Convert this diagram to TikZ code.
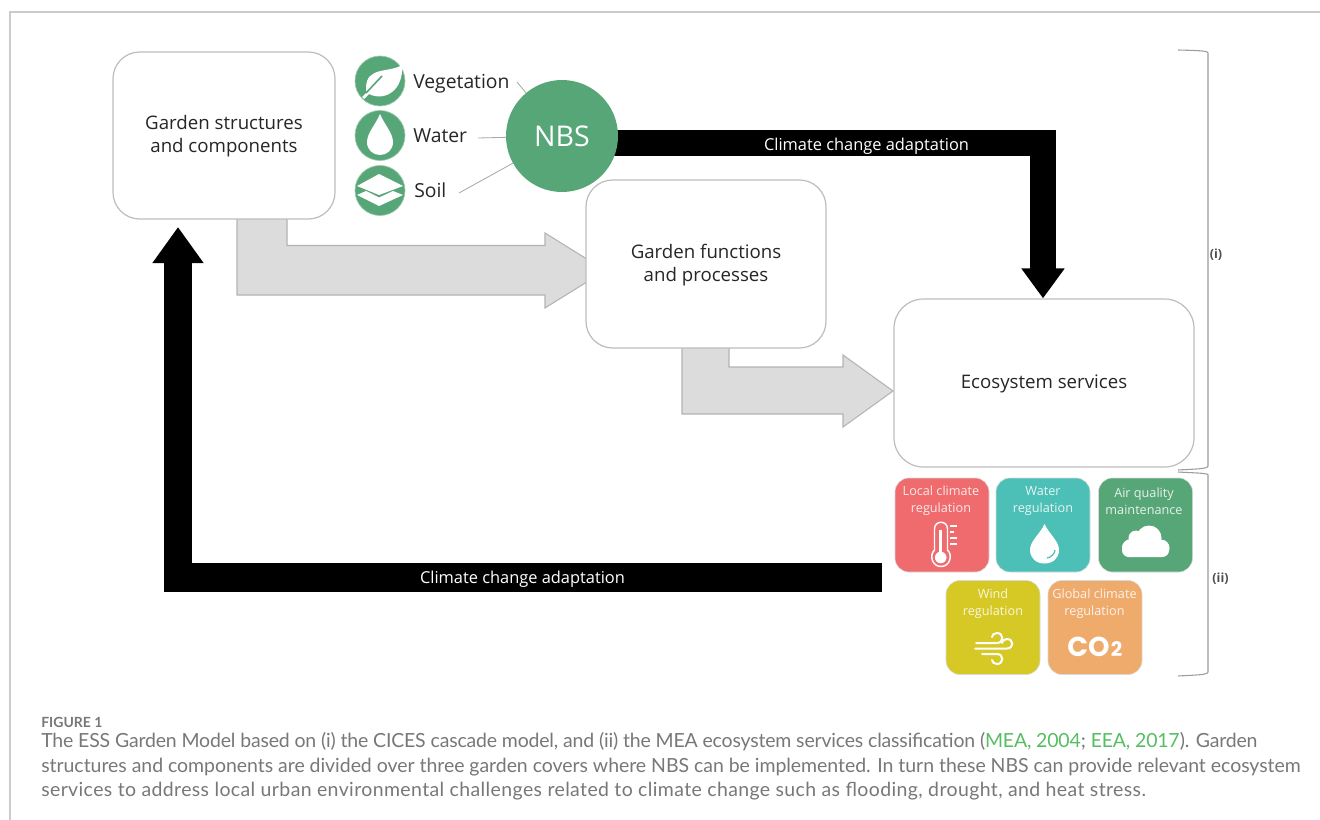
\documentclass[tikz,border=0pt]{standalone}
\usepackage{fontspec}
\setmainfont{Open Sans}
\newfontfamily\capfont{Lato}
\newfontfamily\cofont{Poppins}
\usetikzlibrary{arrows.meta}
\pgfdeclarelayer{back}
\pgfsetlayers{back,main}
\newcommand{\dnrule}{\rule{0pt}{12.1pt}}
\newcommand{\spaced}[1]{\addfontfeature{LetterSpace=#1}}
\definecolor{framec}{HTML}{CBCBCB}
\definecolor{boxline}{HTML}{BDBDBD}
\definecolor{greyfill}{HTML}{DCDCDC}
\definecolor{greyline}{HTML}{B4B4B4}
\definecolor{nbsgreen}{HTML}{57A677}
\definecolor{capgrey}{HTML}{787878}
\definecolor{linkgreen}{HTML}{56BE62}
\definecolor{tred}{HTML}{EF6B6E}
\definecolor{tteal}{HTML}{4CC0B6}
\definecolor{tgreen}{HTML}{57A677}
\definecolor{tyellow}{HTML}{D6C825}
\definecolor{torange}{HTML}{EFAB6C}
\definecolor{bracketc}{HTML}{9C9C9C}
\tikzset{
  rbox/.style={draw=boxline,line width=0.9pt,fill=white,align=center,text=black!85,
    font=\fontsize{14}{17.3}\selectfont,inner sep=0pt},
  iconc/.style={circle,fill=nbsgreen,draw=nbsgreen!60!white,line width=0.5pt,minimum size=37.5pt,inner sep=0pt},
  nbsc/.style={circle,fill=nbsgreen,minimum size=84pt,inner sep=0pt,text=white,font=\fontsize{21.4}{21.4}\selectfont},
  lab/.style={anchor=base west,inner sep=0pt,text=black!85,font=\fontsize{14.5}{17}\selectfont},
  thinl/.style={draw=black!35,line width=0.6pt},
  blockarrow/.style={draw=greyline,line width=0.8pt,fill=greyfill,line join=miter},
  tile/.style={rounded corners=10.5pt,minimum width=70.5pt,minimum height=70.5pt,inner sep=0pt,draw=white!85!black,line width=0.4pt},
  tiletxt/.style={align=center,inner sep=0pt,text=white,text opacity=0.85,font=\fontsize{9.5}{12.7}\selectfont},
  blackarrow/.style={line join=miter,draw=black},
  arrowtxt/.style={inner sep=0pt,text=white,font=\fontsize{12.3}{14}\selectfont},
  brk/.style={draw=bracketc,line width=0.8pt},
  brtxt/.style={inner sep=0pt,text=black!70,font=\fontsize{9.4}{11}\selectfont\bfseries},
  capline/.style={anchor=base west,inner sep=0pt,text=capgrey,font=\capfont\fontsize{14.6}{18}\selectfont}
}
\begin{document}
\begin{tikzpicture}[x=0.75pt,y=-0.75pt]
\useasboundingbox (0,0) rectangle (1320,820);
\begin{pgfonlayer}{back}
\fill[white] (0,0) rectangle (1320,820);
\end{pgfonlayer}
% frame
\draw[framec,line width=0.8pt] (1320,12) -- (10,12) -- (10,820);
% grey block arrows
\draw[blockarrow] (237,215) -- (287,215) -- (287,245.5) -- (545,245.5) -- (545,233) -- (590,261) -- (590,280) -- (545,308) -- (545,295) -- (237,295) -- cycle;
\draw[blockarrow] (682,344) -- (729,344) -- (729,367) -- (843,367) -- (843,355) -- (893,391) -- (843,427) -- (843,414) -- (682,414) -- cycle;
% boxes
\node[rbox,rounded corners=20pt,minimum width=166.5pt,minimum height=125.25pt] (box1) at (224,135.5) {\dnrule Garden structures\\and components};
\node[rbox,rounded corners=20pt,minimum width=180pt,minimum height=126pt] (box2) at (706,264) {\dnrule Garden functions\\and processes};
\node[rbox,rounded corners=22pt,minimum width=225pt,minimum height=126pt] (box3) at (1044,383) {\dnrule Ecosystem services};
% NBS
\node[nbsc] (nbs) at (562,136) {NBS};
% black connectors
\begin{pgfonlayer}{back}
\draw[blackarrow,line width=19.5pt,-{Triangle[length=22.5pt,width=31pt]}] ([yshift=-5.25pt]nbs.center) -| ([xshift=-0.75pt]box3.north);
\end{pgfonlayer}
\coordinate (ccaend) at (882,577.5);
\coordinate (uptarget) at (178,219);
\draw[blackarrow,line width=21.5pt,-{Triangle[length=27pt,width=36.5pt]},shorten >=6pt] (ccaend) -| (uptarget);
\node[arrowtxt] (cca1) at (866.5,146) {Climate change adaptation};
\node[arrowtxt] (cca2) at (522.5,579.5) {Climate change adaptation};
% icons
\node[iconc] (veg) at (380,81) {};
\node[iconc] (wat) at (380,135.5) {};
\node[iconc] (soi) at (380,190.5) {};
% leaf
\fill[white] (402,65) .. controls (390,73) and (366,66) .. (366,88) .. controls (366,90) and (366,91) .. (367,92) -- (362,97) -- (364,99) -- (369,94) .. controls (385,102) and (404,90) .. (402,65) -- cycle;
\draw[nbsgreen,line width=1.2pt] (382,76) -- (366,93);
% drop
\fill[white] (380,114) .. controls (376,124) and (367,133) .. (367,142) .. controls (367,150) and (373,155) .. (380,155) .. controls (387,155) and (393,150) .. (393,142) .. controls (393,133) and (384,124) .. (380,114) -- cycle;
% soil layers
\fill[white] (357,186) -- (379,174) -- (403,186) -- (379,195) -- cycle;
\fill[white] (357,195) -- (366,191) -- (379,197.5) -- (393,191) -- (403,195) -- (379,206) -- cycle;
% labels and thin connectors
\node[lab] (lveg) at (413,88.5) {Vegetation};
\node[lab] (lwat) at (413,142.5) {Water};
\node[lab] (lsoi) at (414,197.5) {Soil};
\coordinate (cveg) at (517,82);
\coordinate (cwat) at (478,138);
\coordinate (csoi) at (459,193);
\draw[thinl] (cveg) -- (nbs);
\draw[thinl] (cwat) -- (nbs);
\draw[thinl] (csoi) -- (nbs);
% tiles
\node[tile,fill=tred] (t1) at (942,525) {};
\node[tile,fill=tteal] (t2) at (1043,525) {};
\node[tile,fill=tgreen] (t3) at (1145.5,525) {};
\node[tile,fill=tyellow] (t4) at (993,627.5) {};
\node[tile,fill=torange] (t5) at (1095,627.5) {};
\node[tiletxt] (tt1) at (941,501) {Local climate\\regulation};
\node[tiletxt] (tt2) at (1043,501) {Water\\regulation};
\node[tiletxt] (tt3) at (1144,501) {Air quality\\maintenance};
\node[tiletxt] (tt4) at (993,603.5) {Wind\\regulation};
\node[tiletxt] (tt5) at (1094.5,603.5) {Global climate\\regulation};
% thermometer
\draw[white,line width=1.1pt,fill=tred] (934.5,529) .. controls (934.5,520) and (947.5,520) .. (947.5,529) -- (947.5,550) .. controls (953,555) and (950,566.5) .. (941,566.5) .. controls (932,566.5) and (929,555) .. (934.5,550) -- cycle;
\fill[white] (940.7,557.5) circle (5.8);
\fill[white] (939.3,530) rectangle (942.1,555);
\draw[white,line width=1.1pt] (950,526) -- (957,526) (950,532) -- (954,532) (950,538) -- (957,538) (950,544) -- (957,544);
% water tile drop
\fill[white] (1044.5,524) .. controls (1040,534) and (1030,541) .. (1030,550) .. controls (1030,558) and (1036,563.5) .. (1044.5,563.5) .. controls (1053,563.5) and (1059,558) .. (1059,550) .. controls (1059,541) and (1049,534) .. (1044.5,524) -- cycle;
\draw[tteal,line width=0.9pt] (1047,558) .. controls (1051,557.5) and (1054.5,554) .. (1055,550);
% cloud
\fill[white,rounded corners=5pt] (1122,541) rectangle (1169,557);
\fill[white] (1131,548) circle (9);
\fill[white] (1136,538) circle (7.5);
\fill[white] (1149,538) circle (12.5);
\fill[white] (1161,548) circle (8.5);
% wind
\draw[white,line width=1.5pt,line cap=round] (976,643) -- (997,643) .. controls (1004,643) and (1004,633) .. (997,633) .. controls (994,633) and (992,635) .. (992,637);
\draw[white,line width=1.5pt,line cap=round] (975,648.5) -- (1007,648.5) .. controls (1014,648.5) and (1014,639) .. (1007,639) .. controls (1004,639) and (1002,641) .. (1002,643);
\draw[white,line width=1.5pt,line cap=round] (982,654) -- (997,654) .. controls (1004,654) and (1004,664) .. (997,664) .. controls (994,664) and (992,662) .. (992,660);
% CO2
\node[inner sep=0pt,anchor=base west,text=white] (co2) at (1067,656) {\cofont\bfseries\fontsize{20.5}{20}\selectfont CO\kern1pt\fontsize{15}{20}\selectfont 2};
% brackets
\draw[brk] (1178,50) .. controls (1195,50.5) and (1208,50.5) .. (1208,53) -- (1208,466) .. controls (1208,469) and (1195,469) .. (1178,470);
\draw[brk] (1178,472) .. controls (1195,473) and (1208,473) .. (1208,475) -- (1208,672) .. controls (1208,675) and (1195,675) .. (1178,676);
\node[brtxt] (bi) at (1216,255) {(i)};
\node[brtxt] (bii) at (1220.5,579) {(ii)};
% caption
\node[inner sep=0pt,anchor=base west,text=capgrey,font=\capfont\bfseries\fontsize{10.5}{12}\selectfont] (fig) at (41,727) {FIGURE 1};
\node[capline] (c1) at (41,747) {\spaced{-0.9}The ESS Garden Model based on (i) the CICES cascade model, and (ii) the MEA ecosystem services classification (\textcolor{linkgreen}{MEA, 2004}; \textcolor{linkgreen}{EEA, 2017}). Garden};
\node[capline] (c2) at (41,772) {\spaced{-0.18}structures and components are divided over three garden covers where NBS can be implemented. In turn these NBS can provide relevant ecosystem};
\node[capline] (c3) at (41,796) {\spaced{2.03}services to address local urban environmental challenges related to climate change such as flooding, drought, and heat stress.};
\end{tikzpicture}
\end{document}
